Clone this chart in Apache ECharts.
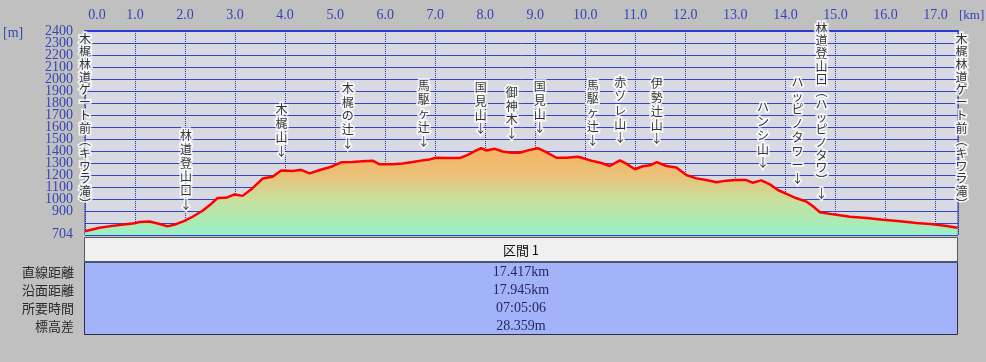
<!DOCTYPE html>
<html>
<head>
<meta charset="utf-8">
<script src="https://cdn.jsdelivr.net/npm/echarts@6/dist/echarts.min.js"></script>
<style>html,body{margin:0;padding:0;background:#c0c0c0;}#c{width:986px;height:362px;}</style>
</head>
<body>
<div id="c"></div>
<script>
// ---- data ----
const distKm = [0.00,0.29,0.55,0.82,0.99,1.09,1.29,1.49,1.65,1.82,1.99,2.15,2.35,2.52,2.65,2.82,2.99,3.15,3.35,3.55,3.75,3.92,4.15,4.32,4.49,4.69,4.87,4.95,5.12,5.35,5.55,5.75,5.89,6.15,6.35,6.55,6.75,6.89,7.02,7.22,7.49,7.65,7.82,7.92,8.02,8.19,8.35,8.52,8.69,8.85,9.05,9.22,9.42,9.62,9.85,9.95,10.15,10.32,10.49,10.69,10.82,10.99,11.15,11.29,11.43,11.62,11.82,12.02,12.22,12.42,12.62,12.82,13.02,13.22,13.34,13.52,13.69,13.85,14.02,14.22,14.42,14.55,14.69,14.95,15.29,15.62,15.95,16.29,16.62,16.95,17.22,17.44];
const elevM = [732,760,776,790,798,808,812,792,772,790,818,852,902,958,1008,1010,1038,1026,1090,1170,1186,1238,1234,1243,1214,1242,1262,1273,1306,1308,1315,1319,1289,1289,1295,1308,1322,1330,1344,1341,1341,1368,1405,1423,1405,1418,1396,1385,1385,1405,1423,1390,1344,1344,1352,1341,1316,1300,1275,1322,1295,1248,1273,1281,1308,1275,1262,1200,1172,1158,1139,1153,1158,1158,1136,1155,1122,1075,1042,1006,978,940,890,872,853,842,828,814,800,789,775,760];

const xTickValues = [0,1,2,3,4,5,6,7,8,9,10,11,12,13,14,15,16,17];
// y tick labels split in two interleaved sets so none is dropped as overlapping
const yTickValuesEven = [704,1000,1200,1400,1600,1800,2000,2200,2400];
const yTickValuesOdd = [900,1100,1300,1500,1700,1900,2100,2300];

const annoText = ['木梶林道ゲート前︵キワラ滝︶','林道登山口↓','木梶山↓','木梶の辻↓','馬駆ヶ辻↓','国見山↓','御神木↓','国見山↓','馬駆ヶ辻↓','赤ゾレ山↓','伊勢辻山↓','ハンシ山↓','ハッピノタワー↓','林道登山口︵ハッピノタワ︶↓','木梶林道ゲート前︵キワラ滝︶'];
const annoKm   = [0.00, 2.02, 3.93, 5.25, 6.77, 7.91, 8.53, 9.09, 10.15, 10.70, 11.43, 13.55, 14.24, 14.72, 17.52];
const annoElev = [904,  898,  1342, 1405, 1425, 1527, 1488, 1535, 1433, 1452, 1444, 1244, 1111, 995, 904];

const sectionTitle = '区間 1';
const tableLabels = ['直線距離','沿面距離','所要時間','標高差'];
const tableValues = ['17.417km','17.945km','07:05:06','28.359m'];

// ---- chart ----
const chart = echarts.init(document.getElementById('c'), null, {renderer:'canvas'});
const lineData = distKm.map((d,i)=>[d, elevM[i]]);
const annoData = annoKm.map((d,i)=>({value:[d, annoElev[i]], name: annoText[i]}));

const blue = '#3545b8';
const graphics = [
  {type:'text', left:3, top:26, style:{text:'[m]', fill:blue, font:'14px "Liberation Serif"'}},
  {type:'text', left:959, top:9, style:{text:'[km]', fill:blue, font:'13px "Liberation Serif"'}},
  {type:'rect', shape:{x:84.5,y:237.5,width:873,height:24}, style:{fill:'#f0f0f0', stroke:'#5a5a66', lineWidth:1}},
  {type:'rect', shape:{x:84.5,y:262.5,width:873,height:72}, style:{fill:'#a3b3fa', stroke:'#2c2c48', lineWidth:1}},
  {type:'line', shape:{x1:84, y1:262, x2:958, y2:262}, style:{stroke:'#4c5470', lineWidth:2}},
  {type:'text', x:521, y:250, style:{text:sectionTitle, fill:'#111', font:'13px "Noto Sans CJK JP"', align:'center', verticalAlign:'middle'}}
];
tableLabels.forEach((t,i)=>{
  graphics.push({type:'text', x:74, y:272+i*18, style:{text:t, fill:'#2a2a2a', font:'13px "Noto Sans CJK JP"', align:'right', verticalAlign:'middle'}});
});
tableValues.forEach((t,i)=>{
  graphics.push({type:'text', x:521, y:272+i*18, style:{text:t, fill:'#262660', font:'14px "Liberation Serif"', align:'center', verticalAlign:'middle'}});
});

const yLabelStyle = {color:blue, fontFamily:'Liberation Serif', fontSize:14, margin:12, formatter:v=>String(v), showMaxLabel:true, showMinLabel:true};

const option = {
  backgroundColor:'#c0c0c0',
  animation:false,
  grid:{left:85, right:28, top:31, bottom:127, show:true, backgroundColor:'#d9d9e1', borderColor:'#2a3aa8', borderWidth:1},
  xAxis:{
    type:'value', position:'top', min:0, max:17.45, interval:1,
    axisLine:{show:true, onZero:false, lineStyle:{color:'#2b3bd0', width:2}},
    axisTick:{show:false},
    axisLabel:{customValues:xTickValues, color:blue, fontFamily:'Liberation Serif', fontSize:14, margin:9,
      formatter:v=> v===0 ? '{z|0.0}' : v.toFixed(1),
      rich:{z:{padding:[0,0,0,24], color:blue, fontFamily:'Liberation Serif', fontSize:14}}},
    splitLine:{show:true, lineStyle:{color:'#22339a', type:'dotted', width:1}}
  },
  yAxis:[{
    type:'value', position:'left', min:700, max:2400, interval:100,
    axisLine:{show:false}, axisTick:{show:false},
    axisLabel:Object.assign({customValues:yTickValuesEven}, yLabelStyle),
    splitLine:{show:true, lineStyle:{color:'#3444c8', width:1}}
  },{
    type:'value', position:'left', offset:0, min:700, max:2400, interval:100,
    axisLine:{show:false}, axisTick:{show:false},
    axisLabel:Object.assign({customValues:yTickValuesOdd}, yLabelStyle),
    splitLine:{show:false}
  }],
  graphic:graphics,
  series:[
    {
      type:'line', yAxisIndex:0, data:lineData, symbol:'none', smooth:false,
      lineStyle:{color:'#ff0000', width:2.5},
      areaStyle:{opacity:1, color:new echarts.graphic.LinearGradient(0,0,0,1,[
        {offset:0, color:'#f6b468'},
        {offset:0.3, color:'#ecc078'},
        {offset:0.6, color:'#c8e09e'},
        {offset:1, color:'#98f0c6'}
      ])},
      z:3
    },
    {
      type:'scatter', yAxisIndex:0, data:annoData, symbolSize:0, clip:false, z:5, silent:true,
      label:{show:true, position:'top', distance:0,
        formatter:p=>Array.from(p.name).join('\n'),
        fontFamily:'Noto Sans CJK JP', fontSize:12, color:'#000',
        lineHeight:13,
        textBorderColor:'#ffffff', textBorderWidth:3.5
      }
    }
  ]
};
option.series[1].data.forEach(d=>{
  const n = Array.from(d.name).length;
  d.label = {lineHeight: n>10 ? 12.7 : 13.8};
});
chart.setOption(option);
</script>
</body>
</html>
